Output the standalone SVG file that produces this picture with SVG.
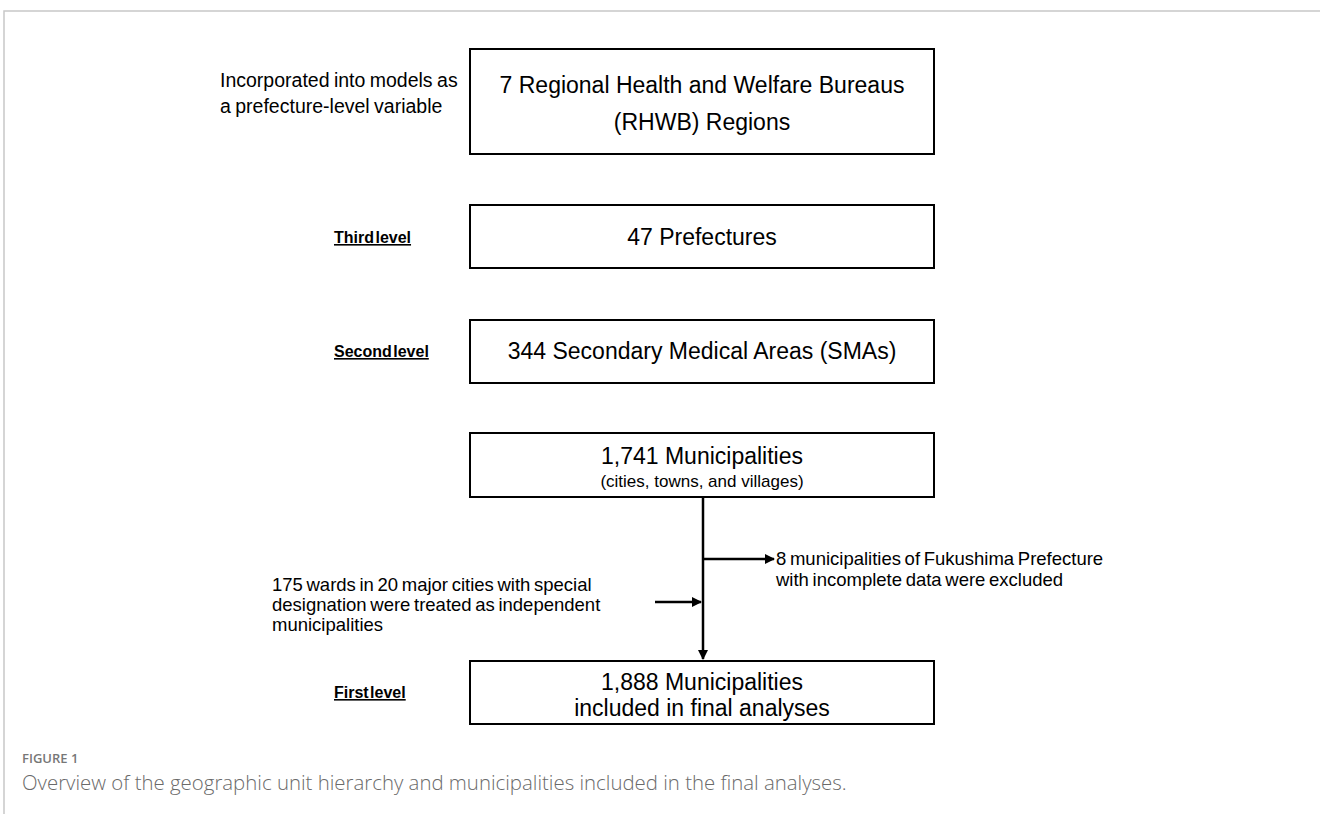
<svg xmlns="http://www.w3.org/2000/svg" width="1320" height="814" viewBox="0 0 1320 814">
  <defs>
    <marker id="arrow" viewBox="0 0 10 10" refX="9" refY="5" markerWidth="4" markerHeight="4" orient="auto" markerUnits="strokeWidth">
      <path d="M0,0 L10,5 L0,10 z" fill="#000"/>
    </marker>
    <style>
      .box { fill: #fff; stroke: #000; stroke-width: 2; }
      .main { font-family: "Liberation Sans", Arial, sans-serif; font-size: 23px; fill: #000; text-anchor: middle; }
      .sub { font-family: "Liberation Sans", Arial, sans-serif; font-size: 17px; fill: #000; text-anchor: middle; }
      .note { font-family: "Liberation Sans", Arial, sans-serif; font-size: 18.5px; fill: #000; word-spacing: -1.5px; }
      .note-lg { font-size: 19.5px; word-spacing: -1px; }
      .level { font-family: "Liberation Sans", Arial, sans-serif; font-size: 16px; font-weight: bold; fill: #000; text-decoration: underline; word-spacing: -3px; }
      .conn { stroke: #000; stroke-width: 2.5; fill: none; }
      .frame { stroke: #c8c8c8; stroke-width: 1.5; fill: none; }
      .figlabel { font-family: "Open Sans", "Noto Sans", sans-serif; font-size: 13px; font-weight: 600; fill: #777; }
      .caption { font-family: "Open Sans", "Noto Sans", sans-serif; font-size: 20.4px; font-weight: 300; fill: #6a6a6a; }
    </style>
  </defs>
  <rect width="1320" height="814" fill="#fff"/>
  <path class="frame" d="M1320,11 H4 V814"/>

  <g id="note-rhwb">
    <text class="note note-lg" x="220" y="87">Incorporated into models as</text>
    <text class="note note-lg" x="220" y="113">a prefecture-level variable</text>
  </g>
  <g id="node-rhwb">
    <rect class="box" x="470" y="49" width="464" height="105"/>
    <text class="main" x="702" y="93">7 Regional Health and Welfare Bureaus</text>
    <text class="main" x="702" y="130">(RHWB) Regions</text>
  </g>

  <g id="label-third">
    <text class="level" x="334" y="243">Third level</text>
  </g>
  <g id="node-prefectures">
    <rect class="box" x="470" y="205" width="464" height="63"/>
    <text class="main" x="702" y="245">47 Prefectures</text>
  </g>

  <g id="label-second">
    <text class="level" x="334" y="357">Second level</text>
  </g>
  <g id="node-smas">
    <rect class="box" x="470" y="320" width="464" height="63"/>
    <text class="main" x="702" y="359">344 Secondary Medical Areas (SMAs)</text>
  </g>

  <g id="node-municipalities">
    <rect class="box" x="470" y="433" width="464" height="64"/>
    <text class="main" x="702" y="464">1,741 Municipalities</text>
    <text class="sub" x="702" y="487">(cities, towns, and villages)</text>
  </g>

  <g id="note-fukushima">
    <text class="note" x="776" y="565">8 municipalities of Fukushima Prefecture</text>
    <text class="note" x="776" y="586">with incomplete data were excluded</text>
  </g>
  <g id="note-wards">
    <text class="note" x="272" y="591">175 wards in 20 major cities with special</text>
    <text class="note" x="272" y="611">designation were treated as independent</text>
    <text class="note" x="272" y="631">municipalities</text>
  </g>

  <g id="label-first">
    <text class="level" x="334" y="698">First level</text>
  </g>
  <g id="node-final">
    <rect class="box" x="470" y="661" width="464" height="63"/>
    <text class="main" x="702" y="690">1,888 Municipalities</text>
    <text class="main" x="702" y="716">included in final analyses</text>
  </g>

  <g id="connectors">
    <line class="conn" x1="703" y1="497" x2="703" y2="659" marker-end="url(#arrow)"/>
    <line class="conn" x1="703" y1="559" x2="774" y2="559" marker-end="url(#arrow)"/>
    <line class="conn" x1="655" y1="602" x2="701" y2="602" marker-end="url(#arrow)"/>
  </g>

  <g id="caption">
    <text class="figlabel" x="22" y="763">FIGURE 1</text>
    <text class="caption" x="22" y="790">Overview of the geographic unit hierarchy and municipalities included in the final analyses.</text>
  </g>
</svg>
